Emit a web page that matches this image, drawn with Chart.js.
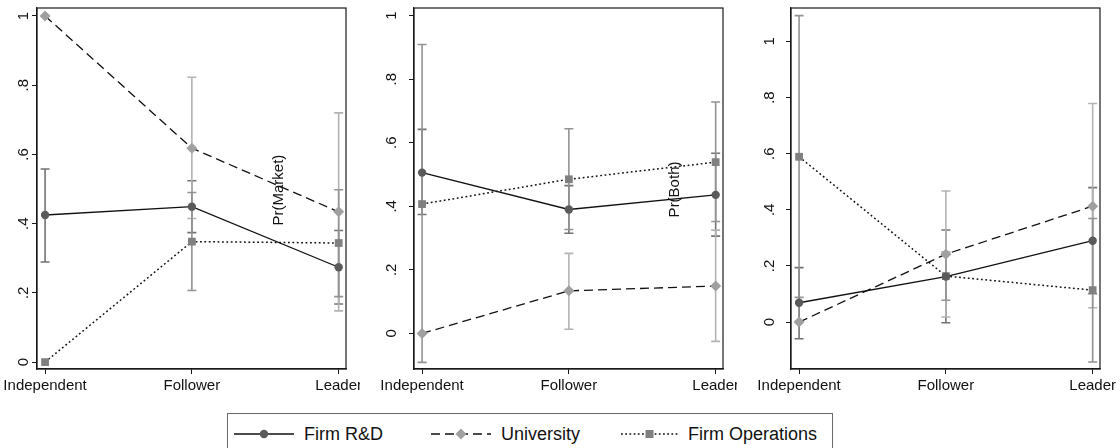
<!DOCTYPE html>
<html>
<head>
<meta charset="utf-8">
<script src="https://cdn.jsdelivr.net/npm/chart.js@4.4.1/dist/chart.umd.min.js"></script>
<style>
  body { margin: 0; background: #fff; width: 1120px; height: 448px; overflow: hidden; position: relative; font-family: "Liberation Sans", Arial, sans-serif; }
  .panel { position: absolute; top: 0; }
  #legend { position: absolute; left: 227px; top: 413px; width: 606px; height: 60px; border: 1.5px solid #6a6a6a; box-sizing: border-box; }
  .key { position: absolute; top: 9px; }
  .lab { position: absolute; top: 9px; font-size: 18px; line-height: 22px; color: #111; white-space: nowrap; }
</style>
</head>
<body>
<canvas id="p1" class="panel" width="360" height="400" style="left:0px"></canvas>
<canvas id="p2" class="panel" width="377" height="400" style="left:360px"></canvas>
<canvas id="p3" class="panel" width="383" height="400" style="left:737px"></canvas>

<div id="legend">
  <svg class="key" style="left:6px" width="60" height="22">
    <line x1="0" y1="11" x2="60" y2="11" stroke="#111" stroke-width="1.3"/>
    <circle cx="30" cy="11" r="4.2" fill="#5a5a5a"/>
  </svg>
  <span class="lab" style="left:76px">Firm R&amp;D</span>
  <svg class="key" style="left:203px" width="60" height="22">
    <line x1="0" y1="11" x2="60" y2="11" stroke="#111" stroke-width="1.3" stroke-dasharray="9 5"/>
    <polygon points="30,5.5 35.5,11 30,16.5 24.5,11" fill="#a0a0a0"/>
  </svg>
  <span class="lab" style="left:273px">University</span>
  <svg class="key" style="left:393px" width="57" height="22">
    <line x1="0" y1="11" x2="57" y2="11" stroke="#111" stroke-width="1.4" stroke-dasharray="1.8 2.4"/>
    <rect x="24.5" y="7" width="8" height="8" fill="#808080"/>
  </svg>
  <span class="lab" style="left:460px">Firm Operations</span>
</div>

<script>
// ---------------- data ----------------
const categories = ["Independent", "Follower", "Leader"];

// Pr(Market)
const marketRD = [0.425, 0.449, 0.274];
const marketRDLo = [0.289, 0.374, 0.168];
const marketRDHi = [0.558, 0.524, 0.380];
const marketUni = [1.0, 0.618, 0.434];
const marketUniLo = [null, 0.415, 0.148];
const marketUniHi = [null, 0.823, 0.720];
const marketOps = [0.0, 0.348, 0.344];
const marketOpsLo = [null, 0.207, 0.189];
const marketOpsHi = [null, 0.490, 0.498];

// Pr(Both)
const bothRD = [0.506, 0.390, 0.436];
const bothRDLo = [0.374, 0.315, 0.306];
const bothRDHi = [0.642, 0.465, 0.567];
const bothUni = [0.0, 0.134, 0.149];
const bothUniLo = [null, 0.013, -0.025];
const bothUniHi = [null, 0.252, 0.325];
const bothOps = [0.407, 0.485, 0.539];
const bothOpsLo = [-0.091, 0.327, 0.352];
const bothOpsHi = [0.909, 0.644, 0.728];

// third panel
const thirdRD = [0.069, 0.162, 0.290];
const thirdRDLo = [-0.059, -0.002, 0.101];
const thirdRDHi = [0.194, 0.328, 0.479];
const thirdUni = [0.0, 0.242, 0.413];
const thirdUniLo = [null, 0.018, 0.051];
const thirdUniHi = [null, 0.467, 0.779];
const thirdOps = [0.589, 0.164, 0.114];
const thirdOpsLo = [0.088, 0.078, -0.142];
const thirdOpsHi = [1.092, 0.250, 0.369];

// ---------------- plugins ----------------
const errorBars = {
  id: "errorBars",
  beforeDatasetsDraw(chart) {
    const ctx = chart.ctx;
    const xs = chart.scales.x;
    const ys = chart.scales.y;
    chart.data.datasets.forEach((ds) => {
      if (!ds.lo) return;
      ctx.save();
      ctx.strokeStyle = ds.ciColor;
      ctx.lineWidth = 1.6;
      ds.lo.forEach((lo, i) => {
        const hi = ds.hi[i];
        if (lo === null || hi === null) return;
        const px = xs.getPixelForValue(i);
        const y1 = ys.getPixelForValue(lo);
        const y2 = ys.getPixelForValue(hi);
        ctx.beginPath();
        ctx.moveTo(px, y1); ctx.lineTo(px, y2);
        ctx.moveTo(px - 4.5, y1); ctx.lineTo(px + 4.5, y1);
        ctx.moveTo(px - 4.5, y2); ctx.lineTo(px + 4.5, y2);
        ctx.stroke();
      });
      ctx.restore();
    });
  }
};

const frameBox = {
  id: "frameBox",
  afterDraw(chart) {
    const a = chart.chartArea;
    const ctx = chart.ctx;
    ctx.save();
    ctx.strokeStyle = "#1a1a1a";
    ctx.lineWidth = 1.2;
    ctx.strokeRect(a.left, a.top, a.right - a.left, a.bottom - a.top);
    ctx.restore();

    const t = chart.options.plugins.frameBox.title;
    if (t) {
      const px = chart.scales.x.getPixelForValue(t.x);
      const py = chart.scales.y.getPixelForValue(t.y);
      ctx.save();
      ctx.translate(px, py);
      ctx.rotate(-Math.PI / 2);
      ctx.font = "15px 'Liberation Sans', Arial, sans-serif";
      ctx.fillStyle = "#111";
      ctx.textAlign = "center";
      ctx.textBaseline = "middle";
      ctx.fillText(t.text, 0, 0);
      ctx.restore();
    }
  }
};

// ---------------- charts ----------------
function toPoints(arr) {
  return arr.map((v, i) => ({ x: i, y: v }));
}

function fmtY(v) {
  const r = Math.round(v * 10) / 10;
  if (r === 0) return "0";
  if (r === 1) return "1";
  return "." + Math.round(r * 10);
}

function makePanel(id, p) {
  const ctx = document.getElementById(id).getContext("2d");
  return new Chart(ctx, {
    type: "line",
    data: {
      datasets: [
        {
          label: "Firm R&D",
          data: toPoints(p.rd),
          lo: p.rdLo, hi: p.rdHi, ciColor: "#737373",
          borderColor: "#111", borderWidth: 1.3,
          pointStyle: "circle", pointRadius: 4.2,
          pointBackgroundColor: "#5a5a5a", pointBorderColor: "#5a5a5a", pointBorderWidth: 0
        },
        {
          label: "University",
          data: toPoints(p.uni),
          lo: p.uniLo, hi: p.uniHi, ciColor: "#b3b3b3",
          borderColor: "#111", borderWidth: 1.3, borderDash: [9, 5],
          pointStyle: "rectRot", pointRadius: 5.5,
          pointBackgroundColor: "#a0a0a0", pointBorderColor: "#a0a0a0", pointBorderWidth: 0
        },
        {
          label: "Firm Operations",
          data: toPoints(p.ops),
          lo: p.opsLo, hi: p.opsHi, ciColor: "#939393",
          borderColor: "#111", borderWidth: 1.5, borderDash: [1.8, 2.6],
          pointStyle: "rect", pointRadius: 5.5,
          pointBackgroundColor: "#808080", pointBorderColor: "#808080", pointBorderWidth: 0
        }
      ]
    },
    options: {
      responsive: false,
      animation: false,
      clip: false,
      layout: { padding: { top: 8, right: p.padRight, left: 0, bottom: 0 } },
      scales: {
        x: {
          type: "linear",
          min: -0.055,
          max: 2.05,
          border: { display: true, color: "#1a1a1a", width: 1.2 },
          grid: { drawOnChartArea: false, drawTicks: true, tickLength: 5, color: "#1a1a1a" },
          ticks: {
            stepSize: 1,
            includeBounds: false,
            autoSkip: false,
            maxRotation: 0,
            padding: 3,
            color: "#111",
            font: { family: "'Liberation Sans', Arial, sans-serif", size: 15 },
            callback: (v) => categories[v] ?? ""
          },
          afterFit: (s) => { s.height = 31; s.paddingLeft = 0; s.paddingRight = 0; }
        },
        y: {
          type: "linear",
          min: p.yMin,
          max: p.yMax,
          border: { display: true, color: "#1a1a1a", width: 1.2 },
          grid: { drawOnChartArea: false, drawTicks: true, tickLength: 5, color: "#1a1a1a" },
          ticks: {
            stepSize: 0.2,
            includeBounds: false,
            minRotation: 90,
            maxRotation: 90,
            crossAlign: "center",
            padding: p.yPad,
            color: "#111",
            font: { family: "'Liberation Sans', Arial, sans-serif", size: 15 },
            callback: fmtY
          },
          afterFit: (s) => { s.width = p.yWidth; s.paddingTop = 0; s.paddingBottom = 0; }
        }
      },
      plugins: {
        legend: { display: false },
        tooltip: { enabled: false },
        frameBox: { title: p.title }
      }
    },
    plugins: [errorBars, frameBox]
  });
}

makePanel("p1", {
  rd: marketRD, rdLo: marketRDLo, rdHi: marketRDHi,
  uni: marketUni, uniLo: marketUniLo, uniHi: marketUniHi,
  ops: marketOps, opsLo: marketOpsLo, opsHi: marketOpsHi,
  yMin: -0.02, yMax: 1.023, yWidth: 37, yPad: 2, padRight: 14,
  title: { text: "Pr(Market)", x: 1.59, y: 0.497 }
});

makePanel("p2", {
  rd: bothRD, rdLo: bothRDLo, rdHi: bothRDHi,
  uni: bothUni, uniLo: bothUniLo, uniHi: bothUniHi,
  ops: bothOps, opsLo: bothOpsLo, opsHi: bothOpsHi,
  yMin: -0.112, yMax: 1.024, yWidth: 54, yPad: 11, padRight: 14,
  title: { text: "Pr(Both)", x: 1.72, y: 0.453 }
});

makePanel("p3", {
  rd: thirdRD, rdLo: thirdRDLo, rdHi: thirdRDHi,
  uni: thirdUni, uniLo: thirdUniLo, uniHi: thirdUniHi,
  ops: thirdOps, opsLo: thirdOpsLo, opsHi: thirdOpsHi,
  yMin: -0.167, yMax: 1.119, yWidth: 54, yPad: 10, padRight: 20,
  title: null
});
</script>
</body>
</html>
